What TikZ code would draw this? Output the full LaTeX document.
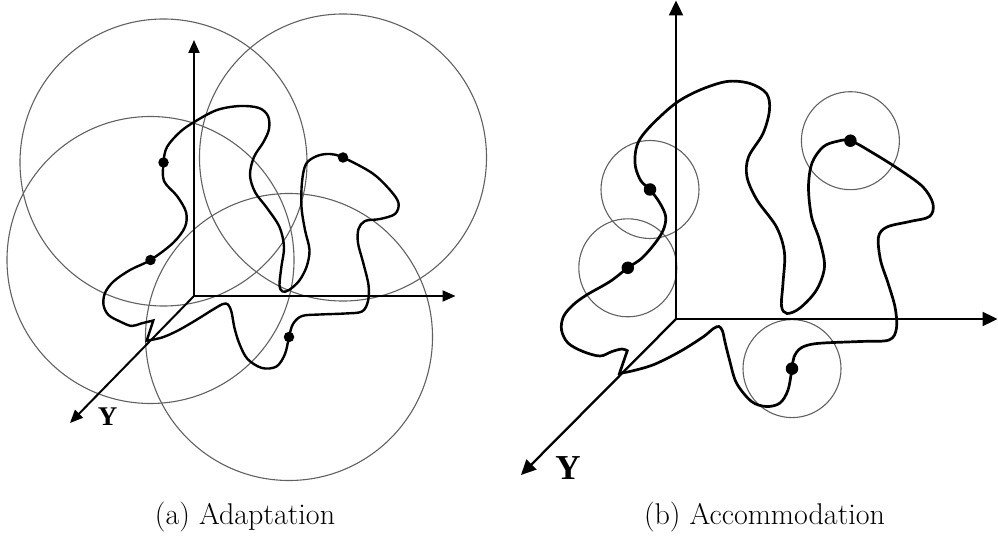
\documentclass[tikz,border=0pt]{standalone}
\usepackage{fontspec}
\usepackage{tikz}
\usetikzlibrary{arrows.meta}
\newfontfamily\lblfont{Liberation Serif}
\tikzset{
  axa/.style={-{Triangle[length=13pt,width=11pt]},line width=2pt},
  axb/.style={-{Triangle[length=15pt,width=14pt]},line width=2.3pt},
  crv/.style={line width=2.4pt},
  rng/.style={draw=black!62,line width=1.1pt},
  dta/.style={circle,fill=black,minimum size=10.5pt,inner sep=0pt},
  dtb/.style={circle,fill=black,minimum size=12.5pt,inner sep=0pt},
  captxt/.style={font=\fontsize{30}{35}\selectfont},
  ylbl/.style={font=\lblfont\bfseries\fontsize{#1}{#1}\selectfont,inner sep=0pt}
}
\begin{document}
\begin{tikzpicture}[x=1pt,y=-1pt]
\useasboundingbox (0,0) rectangle (998,537);
% (a) adaptation
\coordinate (a1) at (163.5,162.5);
\coordinate (a2) at (150.5,260);
\coordinate (a3) at (343,157.5);
\coordinate (a4) at (289,337);
\foreach \c in {a1,a2,a3,a4} {\draw[rng] (\c) circle (143.5);}
\coordinate (oa) at (194,296);
\coordinate (va) at (194,40);
\coordinate (ha) at (455.5,296);
\coordinate (ta) at (70,423);
\draw[axa] (oa) -- (va);
\draw[axa] (oa) -- (ha);
\draw[axa] (oa) -- (ta);
\draw[crv] plot[smooth,tension=0.55] coordinates {
  (146.7,340.7) (162,337.5) (178,330.5) (197,319.5) (213,309.5) (223,304) (228,304.5)
  (231.5,312) (234.5,328) (239.5,344) (247.5,359) (262,368) (276.5,366.5) (285,354)
  (a4) (293,324) (302,316) (320,314.5) (345,313.5) (362,311.5) (368,301) (368.5,285)
  (363,262) (358,243) (358.5,229) (365,221) (380,219) (395,214) (398.5,203) (390,190)
  (372,173) (a3) (330,154) (317,156) (306,164) (302,182) (301.5,207) (305,230)
  (309.5,250) (306.5,267) (299,281) (289,290) (282.5,291.5) (279.5,285) (281.5,266)
  (284,247) (279.5,227) (267,208) (255,192) (250,175) (254,157) (263.5,142) (269,129)
  (268,116) (259,108) (240,106) (217,110) (195,121.5) (180,132) (167,147) (a1)
  (164,181) (177,196) (186,212) (185,227) (173,243) (a2) (130,270) (113.5,281.5)
  (105,293) (103.5,305) (108.5,315) (120,321.5) (131.5,326) (141,323.5) (153.3,320.5)
} -- cycle;
\foreach \c in {a1,a2,a3,a4} {\node[dta] (d\c) at (\c) {};}
\node[ylbl=27] (ya) at (107.5,416.5) {Y};
\node[captxt] (capa) at (245,517) {(a) Adaptation};
% (b) accommodation
\coordinate (b1) at (650,189.5);
\coordinate (b2) at (627.8,267.8);
\coordinate (b3) at (850.4,140.7);
\coordinate (b4) at (792,368.6);
\foreach \c in {b1,b2,b3,b4} {\draw[rng] (\c) circle (49);}
\coordinate (ob) at (676,319);
\coordinate (vb) at (676,0.5);
\coordinate (hb) at (997.5,319);
\coordinate (tb) at (521,475);
\draw[axb] (ob) -- (vb);
\draw[axb] (ob) -- (hb);
\draw[axb] (ob) -- (tb);
\draw[crv,line width=2.7pt] plot[smooth,tension=0.55] coordinates {
  (619.5,373.3) (632,371) (654,364.5) (680,351.5) (703,337) (713.5,328.5) (719,326.5)
  (722.5,331) (725,342) (729.5,360) (736.5,383) (751.5,401.5) (766.5,406.5) (780,403)
  (788,390) (b4) (794,357) (801,348) (817,343.5) (860,341.5) (889,340) (896.5,328)
  (895,307) (888,283) (880.5,260) (878.5,237) (887,227) (910,221.5) (929.5,216.5)
  (933,204) (923,187) (900,170) (873,153) (b3) (836.5,141.5) (823,147) (812,163)
  (808.5,187) (811.5,216.5) (819.5,240) (824.5,266.5) (816.5,290) (800,308) (787,313.5)
  (781.5,306) (783,283) (784.5,253) (776.5,227) (757,200) (747,177) (748.5,157)
  (763,133.5) (769.5,110) (766.5,93.5) (750,83.5) (727,81.5) (700,90) (676,103)
  (653,123.5) (640,139) (635.5,152) (635.5,167) (641,181) (b1) (660,203.3)
  (665.7,216.7) (663.3,230) (655,243.3) (641.7,258.3) (b2) (610,281.5) (586.5,295)
  (573,305) (563.5,316.5) (561.5,330) (568,343) (583,351.5) (600,356) (612,351.5)
  (622,349) (627.3,350.7)
} -- cycle;
\foreach \c in {b1,b2,b3,b4} {\node[dtb] (d\c) at (\c) {};}
\node[ylbl=35] (yb) at (568,468) {Y};
\node[captxt] (capb) at (764.5,517) {(b) Accommodation};
\end{tikzpicture}
\end{document}
